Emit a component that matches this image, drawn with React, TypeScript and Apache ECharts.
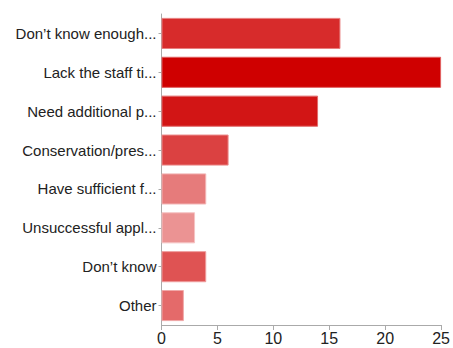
import React, { useEffect, useRef } from "react";
import * as echarts from "echarts";

const categories = [
  "Don’t know enough...",
  "Lack the staff ti...",
  "Need additional p...",
  "Conservation/pres...",
  "Have sufficient f...",
  "Unsuccessful appl...",
  "Don’t know",
  "Other",
];
const values = [16, 25, 14, 6, 4, 3, 4, 2];
const barColors = ["#d72b2b", "#cf0000", "#d21515", "#db4141", "#e67b7b", "#eb9393", "#df5353", "#e46a6a"];
const borderColors = ["#e87f7f", "#e06060", "#e06a6a", "#ec9090", "#f2b4b4", "#f5c4c4", "#ee9c9c", "#f0a8a8"];
const xTicks = [0, 5, 10, 15, 20, 25];

export default function App() {
  const ref = useRef<HTMLDivElement>(null);
  useEffect(() => {
    document.body.style.margin = "0";
    if (!ref.current) return;
    const chart = echarts.init(ref.current, null, { renderer: "svg" });
    chart.setOption({
      animation: false,
      grid: { left: 161.5, right: 9.7, top: 14, bottom: 23, containLabel: false },
      xAxis: {
        type: "value",
        min: xTicks[0],
        max: xTicks[xTicks.length - 1],
        interval: 5,
        splitLine: { show: false },
        axisLine: { show: true, lineStyle: { color: "#aaa", width: 1 } },
        axisTick: { show: true, length: 5, lineStyle: { color: "#aaa" } },
        axisLabel: { color: "#222", fontSize: 16, fontFamily: "Liberation Sans, Arial, sans-serif", margin: 5 },
      },
      yAxis: {
        type: "category",
        data: categories,
        inverse: true,
        axisLine: { show: true, lineStyle: { color: "#aaa", width: 1 } },
        axisTick: { show: true, alignWithLabel: true, length: 3, lineStyle: { color: "#aaa" } },
        axisLabel: { color: "#222", fontSize: 15, fontFamily: "Liberation Sans, Arial, sans-serif", margin: 5 },
      },
      series: [
        {
          type: "bar",
          data: values.map((v, i) => ({
            value: v,
            itemStyle: { color: barColors[i], borderColor: borderColors[i], borderWidth: 1 },
          })),
          barCategoryGap: "20%",
        },
      ],
    });
    return () => chart.dispose();
  }, []);
  return <div ref={ref} style={{ width: 453, height: 348 }} />;
}
